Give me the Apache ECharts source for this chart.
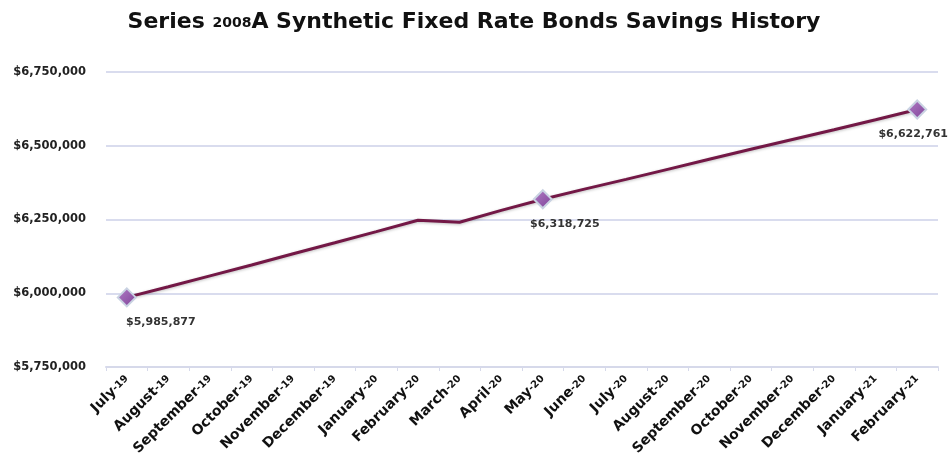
<!DOCTYPE html>
<html>
<head>
<meta charset="utf-8">
<script src="https://cdn.jsdelivr.net/npm/echarts@6/dist/echarts.min.js"></script>
<style>
  html, body { margin: 0; padding: 0; background: #fff; }
  #chart { width: 948px; height: 468px; }
</style>
</head>
<body>
<div id="chart"></div>
<script>
// Month names and two-digit years for the category axis
const months = ['July', 'August', 'September', 'October', 'November', 'December',
  'January', 'February', 'March', 'April', 'May', 'June', 'July', 'August',
  'September', 'October', 'November', 'December', 'January', 'February'];
const years = ['19', '19', '19', '19', '19', '19', '20', '20', '20', '20', '20',
  '20', '20', '20', '20', '20', '20', '20', '21', '21'];

// Cumulative savings per month (USD)
const savings = [5985877, 6022000, 6059000, 6096000, 6134000, 6171000, 6209000,
  6247600, 6240800, 6281000, 6318725, 6353000, 6386000, 6420000, 6454000,
  6488000, 6521000, 6554000, 6588000, 6622761];

// Months that carry a marker and a value label
const labelledIdx = [0, 10, 19];

// Y axis range and step
const yMin = 5750000, yMax = 6750000, yStep = 250000;

const categories = months.map((m, i) => m + '-' + years[i]);
const fmt = v => '$' + Math.round(v).toLocaleString('en-US');
const font = '"DejaVu Sans", sans-serif';

// Horizontal nudge for each value label so it clears the line
const labelShift = { 0: 34, 10: 22, 19: -4 };

const chart = echarts.init(document.getElementById('chart'));
chart.setOption({
  animation: false,
  title: {
    text: '{a|Series }{b|2008}{a|A Synthetic Fixed Rate Bonds Savings History}',
    left: 'center',
    top: 6,
    textStyle: {
      rich: {
        a: { fontFamily: font, fontWeight: 'bold', fontSize: 22, color: '#111' },
        b: { fontFamily: font, fontWeight: 'bold', fontSize: 14, color: '#111', verticalAlign: 'bottom', padding: [0, 0, 3, 0] }
      }
    }
  },
  grid: { left: 106, right: 10, top: 72, bottom: 101 },
  xAxis: {
    type: 'category',
    data: categories,
    boundaryGap: true,
    axisLine: { show: true, lineStyle: { color: '#d6d9ea', width: 2 } },
    axisTick: { show: true, length: 4, lineStyle: { color: '#d6d9ea' } },
    axisLabel: {
      interval: 0,
      rotate: 45,
      margin: 10,
      formatter: v => {
        const p = v.split('-');
        return '{m|' + p[0] + '}{y|-' + p[1] + '}';
      },
      rich: {
        m: { fontFamily: font, fontWeight: 'bold', fontSize: 14, color: '#111' },
        y: { fontFamily: font, fontWeight: 'bold', fontSize: 10, color: '#111' }
      }
    }
  },
  yAxis: {
    type: 'value',
    min: yMin,
    max: yMax,
    interval: yStep,
    axisLine: { show: false },
    axisTick: { show: false },
    splitLine: { lineStyle: { color: '#d9dcee', width: 2 } },
    axisLabel: {
      margin: 20,
      formatter: fmt,
      fontFamily: font,
      fontWeight: 'bold',
      fontSize: 11.5,
      color: '#222'
    }
  },
  series: [{
    type: 'line',
    data: savings.map((v, i) => {
      const on = labelledIdx.includes(i);
      return {
        value: v,
        symbol: on ? 'diamond' : 'none',
        symbolSize: on ? 18 : 0,
        label: {
          show: on,
          position: 'bottom',
          distance: 9,
          offset: [labelShift[i] || 0, 0],
          formatter: p => fmt(p.value),
          fontFamily: font,
          fontWeight: 'bold',
          fontSize: 11,
          color: '#333'
        }
      };
    }),
    showSymbol: true,
    lineStyle: {
      color: '#731846',
      width: 3,
      shadowColor: 'rgba(0,0,0,0.25)',
      shadowBlur: 3,
      shadowOffsetY: 1
    },
    itemStyle: {
      color: new echarts.graphic.LinearGradient(0, 0, 1, 1, [
        { offset: 0, color: '#b27fc6' },
        { offset: 1, color: '#7d3f97' }
      ]),
      borderColor: '#c9d2e2',
      borderWidth: 2
    },
    z: 3
  }]
});
</script>
</body>
</html>
